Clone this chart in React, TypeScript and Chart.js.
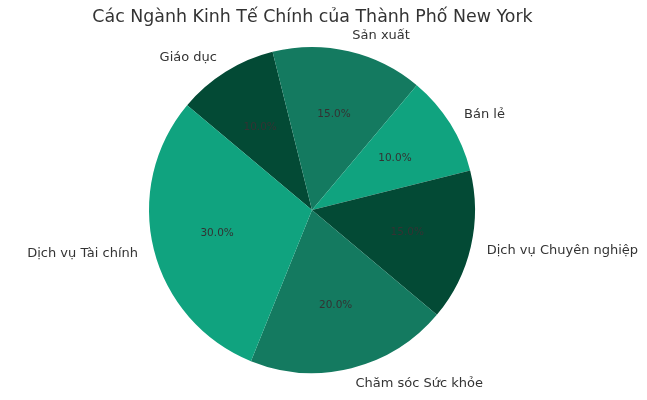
import React, { useEffect, useRef } from "react";
import { Chart, registerables } from "chart.js";

Chart.register(...registerables);

const TITLE = "Các Ngành Kinh Tế Chính của Thành Phố New York";
// Clockwise order starting at upper-left (matplotlib counter-clockwise order reversed)
const categories = [
  "Giáo dục",
  "Sản xuất",
  "Bán lẻ",
  "Dịch vụ Chuyên nghiệp",
  "Chăm sóc Sức khỏe",
  "Dịch vụ Tài chính",
];
const shares = [10, 15, 10, 15, 20, 30];
const sliceColors = ["#034a35", "#147a60", "#10a37f", "#034a35", "#147a60", "#10a37f"];

const FONT = "'DejaVu Sans', sans-serif";

const labelPlugin = {
  id: "pieLabels",
  afterDatasetsDraw(chart: any) {
    const ctx = chart.ctx;
    const meta = chart.getDatasetMeta(0);
    const total = shares.reduce((a, b) => a + b, 0);
    ctx.save();
    meta.data.forEach((arc: any, i: number) => {
      const mid = (arc.startAngle + arc.endAngle) / 2;
      const r = arc.outerRadius;
      const cx = arc.x;
      const cy = arc.y;
      // percentage
      const px = cx + Math.cos(mid) * r * 0.6;
      const py = cy + Math.sin(mid) * r * 0.6;
      ctx.font = `10.5px ${FONT}`;
      ctx.fillStyle = "#333333";
      ctx.textAlign = "center";
      ctx.textBaseline = "middle";
      ctx.fillText(((shares[i] / total) * 100).toFixed(1) + "%", px, py);
      // category label
      const lx = cx + Math.cos(mid) * r * 1.1;
      const ly = cy + Math.sin(mid) * r * 1.1;
      ctx.font = `13px ${FONT}`;
      ctx.fillStyle = "#333333";
      ctx.textAlign = lx >= cx ? "left" : "right";
      ctx.fillText(categories[i], lx, ly);
    });
    // title
    ctx.font = `17.4px ${FONT}`;
    ctx.fillStyle = "#333333";
    ctx.textAlign = "center";
    ctx.textBaseline = "middle";
    ctx.fillText(TITLE, 312.5, 17);
    ctx.restore();
  },
};

export default function App() {
  const ref = useRef<HTMLCanvasElement | null>(null);
  useEffect(() => {
    if (!ref.current) return;
    const chart = new Chart(ref.current, {
      type: "pie",
      data: {
        labels: categories,
        datasets: [
          {
            data: shares,
            backgroundColor: sliceColors,
            borderWidth: 0,
          },
        ],
      },
      options: {
        animation: false,
        responsive: false,
        rotation: -50,
        layout: { padding: { top: 47, bottom: 27, left: 149, right: 172 } },
        plugins: {
          legend: { display: false },
          tooltip: { enabled: false },
          title: { display: false },
        },
      },
      plugins: [labelPlugin],
    });
    return () => chart.destroy();
  }, []);
  return (
    <div style={{ position: "fixed", left: 0, top: 0, width: 647, height: 400, background: "#fff" }}>
      <canvas ref={ref} width={647} height={400} style={{ width: 647, height: 400 }} />
    </div>
  );
}
